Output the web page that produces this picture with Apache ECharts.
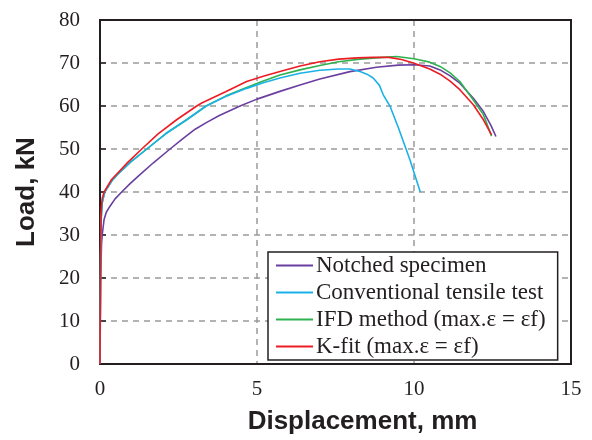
<!DOCTYPE html>
<html>
<head>
<meta charset="utf-8">
<script src="https://cdn.jsdelivr.net/npm/echarts@6/dist/echarts.min.js"></script>
<style>
  html, body { margin: 0; padding: 0; background: #fff; }
  #chart { width: 592px; height: 440px; }
</style>
</head>
<body>
<div id="chart"></div>
<script>
// Load–displacement curves: [displacement (mm), load (kN)]
const notchedSpecimen = [
  [0, 0], [0.02, 20], [0.05, 28], [0.07, 30], [0.13, 33.6], [0.2, 35.3], [0.32, 36.7],
  [0.48, 38.4], [0.69, 40], [0.95, 41.9], [1.22, 43.7], [1.7, 46.8], [2.23, 50],
  [2.62, 52.3], [3.03, 54.6], [3.4, 56.2], [3.8, 57.8], [4.46, 60], [5.0, 61.6],
  [5.73, 63.4], [6.37, 64.9], [7.0, 66.3], [7.96, 68.0], [8.8, 69.0], [9.5, 69.5],
  [10.0, 69.6], [10.5, 69.3], [10.83, 68.4], [11.15, 67.0], [11.46, 65.3],
  [11.89, 61.8], [12.21, 58.7], [12.45, 55.5], [12.61, 52.9]
];
const conventionalTest = [
  [0, 0], [0.02, 25], [0.04, 34], [0.07, 37.5], [0.15, 40], [0.38, 42.6], [0.6, 44.4],
  [0.98, 47], [1.49, 50], [2.1, 53.6], [2.76, 56.8], [3.38, 60], [4.0, 62.2], [4.67, 64.1],
  [5.2, 65.4], [5.73, 66.5], [6.37, 67.6], [7.0, 68.3], [7.6, 68.6], [7.96, 68.6],
  [8.28, 68.0], [8.5, 67.4], [8.7, 66.5], [8.9, 64.8], [9.02, 62.6], [9.24, 59.9],
  [9.5, 55], [9.87, 47.5], [10.2, 40]
];
const ifdMethod = [
  [0, 0], [0.02, 25], [0.04, 34], [0.07, 37.5], [0.15, 40], [0.38, 42.6], [0.6, 44.4],
  [0.98, 47], [1.49, 50], [2.1, 53.6], [2.76, 56.8], [3.38, 60], [4.0, 62.3], [4.67, 64.3],
  [5.2, 65.8], [5.73, 67.2], [6.37, 68.4], [7.0, 69.4], [7.6, 70.3], [8.28, 70.9],
  [9.0, 71.3], [9.45, 71.5], [10.0, 71.0], [10.19, 70.7], [10.5, 70.2], [10.83, 69.2],
  [11.15, 67.7], [11.46, 65.7], [11.89, 61.4], [12.21, 58.0], [12.47, 53]
];
const kFit = [
  [0, 0], [0.02, 28], [0.04, 36], [0.07, 38.5], [0.13, 40], [0.37, 42.9], [0.9, 47.0],
  [1.33, 50], [1.85, 53.5], [2.44, 56.8], [3.08, 60], [3.24, 60.7], [4.0, 63.3],
  [4.67, 65.7], [5.2, 66.9], [5.73, 68.0], [6.37, 69.3], [7.0, 70.3], [7.6, 70.9],
  [8.2, 71.2], [8.7, 71.3], [9.2, 71.3], [9.6, 70.8], [9.98, 70.0], [10.5, 68.6],
  [10.83, 67.4], [11.15, 65.8], [11.46, 63.8], [11.89, 60.3], [12.21, 56.8], [12.47, 53.3]
];

const seriesNames = [
  'Notched specimen',
  'Conventional tensile test',
  'IFD method (max.\u03b5 = \u03b5f)',
  'K-fit (max.\u03b5 = \u03b5f)'
];
const xTicks = [0, 5, 10, 15];
const yTicks = [0, 10, 20, 30, 40, 50, 60, 70, 80];

const ink = '#231f20';
const serif = '"Liberation Serif", "DejaVu Serif", serif';
const sans = '"Liberation Sans", Arial, sans-serif';
const gridLine = { show: true, lineStyle: { color: '#9a9a9a', width: 1.5, type: [6, 5] } };

function curve(name, data, color, z) {
  return {
    name: name, type: 'line', data: data, symbol: 'none', z: z,
    lineStyle: { color: color, width: 1.6 }, itemStyle: { color: color }
  };
}

const chart = echarts.init(document.getElementById('chart'), null, { renderer: 'canvas' });
chart.setOption({
  animation: false,
  backgroundColor: '#ffffff',
  grid: {
    left: 100, right: 21, top: 20, bottom: 75,
    show: true, borderColor: ink, borderWidth: 2, backgroundColor: 'transparent', z: 3
  },
  xAxis: {
    type: 'value', min: xTicks[0], max: xTicks[xTicks.length - 1], interval: 5,
    name: 'Displacement, mm', nameLocation: 'middle', nameGap: 45,
    nameTextStyle: { fontFamily: sans, fontWeight: 'bold', fontSize: 26, color: ink, padding: [0, 0, 0, 54] },
    axisLine: { show: false },
    axisTick: { show: false },
    axisLabel: { fontFamily: serif, fontSize: 21, color: ink, margin: 15 },
    splitLine: gridLine
  },
  yAxis: {
    type: 'value', min: yTicks[0], max: yTicks[yTicks.length - 1], interval: 10,
    name: 'Load, kN', nameLocation: 'middle', nameGap: 60, nameRotate: 90,
    nameTextStyle: { fontFamily: sans, fontWeight: 'bold', fontSize: 26, color: ink },
    axisLine: { show: false },
    axisTick: { show: true, inside: true, length: 6, lineStyle: { color: ink, width: 1.5 } },
    axisLabel: { fontFamily: serif, fontSize: 21, color: ink, margin: 20 },
    splitLine: gridLine
  },
  legend: {
    data: seriesNames,
    orient: 'vertical',
    left: 268, top: 252,
    width: 288,
    backgroundColor: '#ffffff',
    borderColor: ink, borderWidth: 1.5,
    padding: [0, 8, 0, 8],
    itemGap: 0,
    icon: 'rect',
    itemWidth: 37, itemHeight: 1.8,
    textStyle: { fontFamily: serif, fontSize: 23, color: ink, lineHeight: 27, padding: [0, 4, 0, -2] }
  },
  series: [
    curve(seriesNames[0], notchedSpecimen, '#6b3fa0', 2),
    curve(seriesNames[2], ifdMethod, '#2eb24f', 3),
    curve(seriesNames[1], conventionalTest, '#1cb1e6', 4),
    curve(seriesNames[3], kFit, '#ec1c24', 5)
  ]
});
</script>
</body>
</html>
